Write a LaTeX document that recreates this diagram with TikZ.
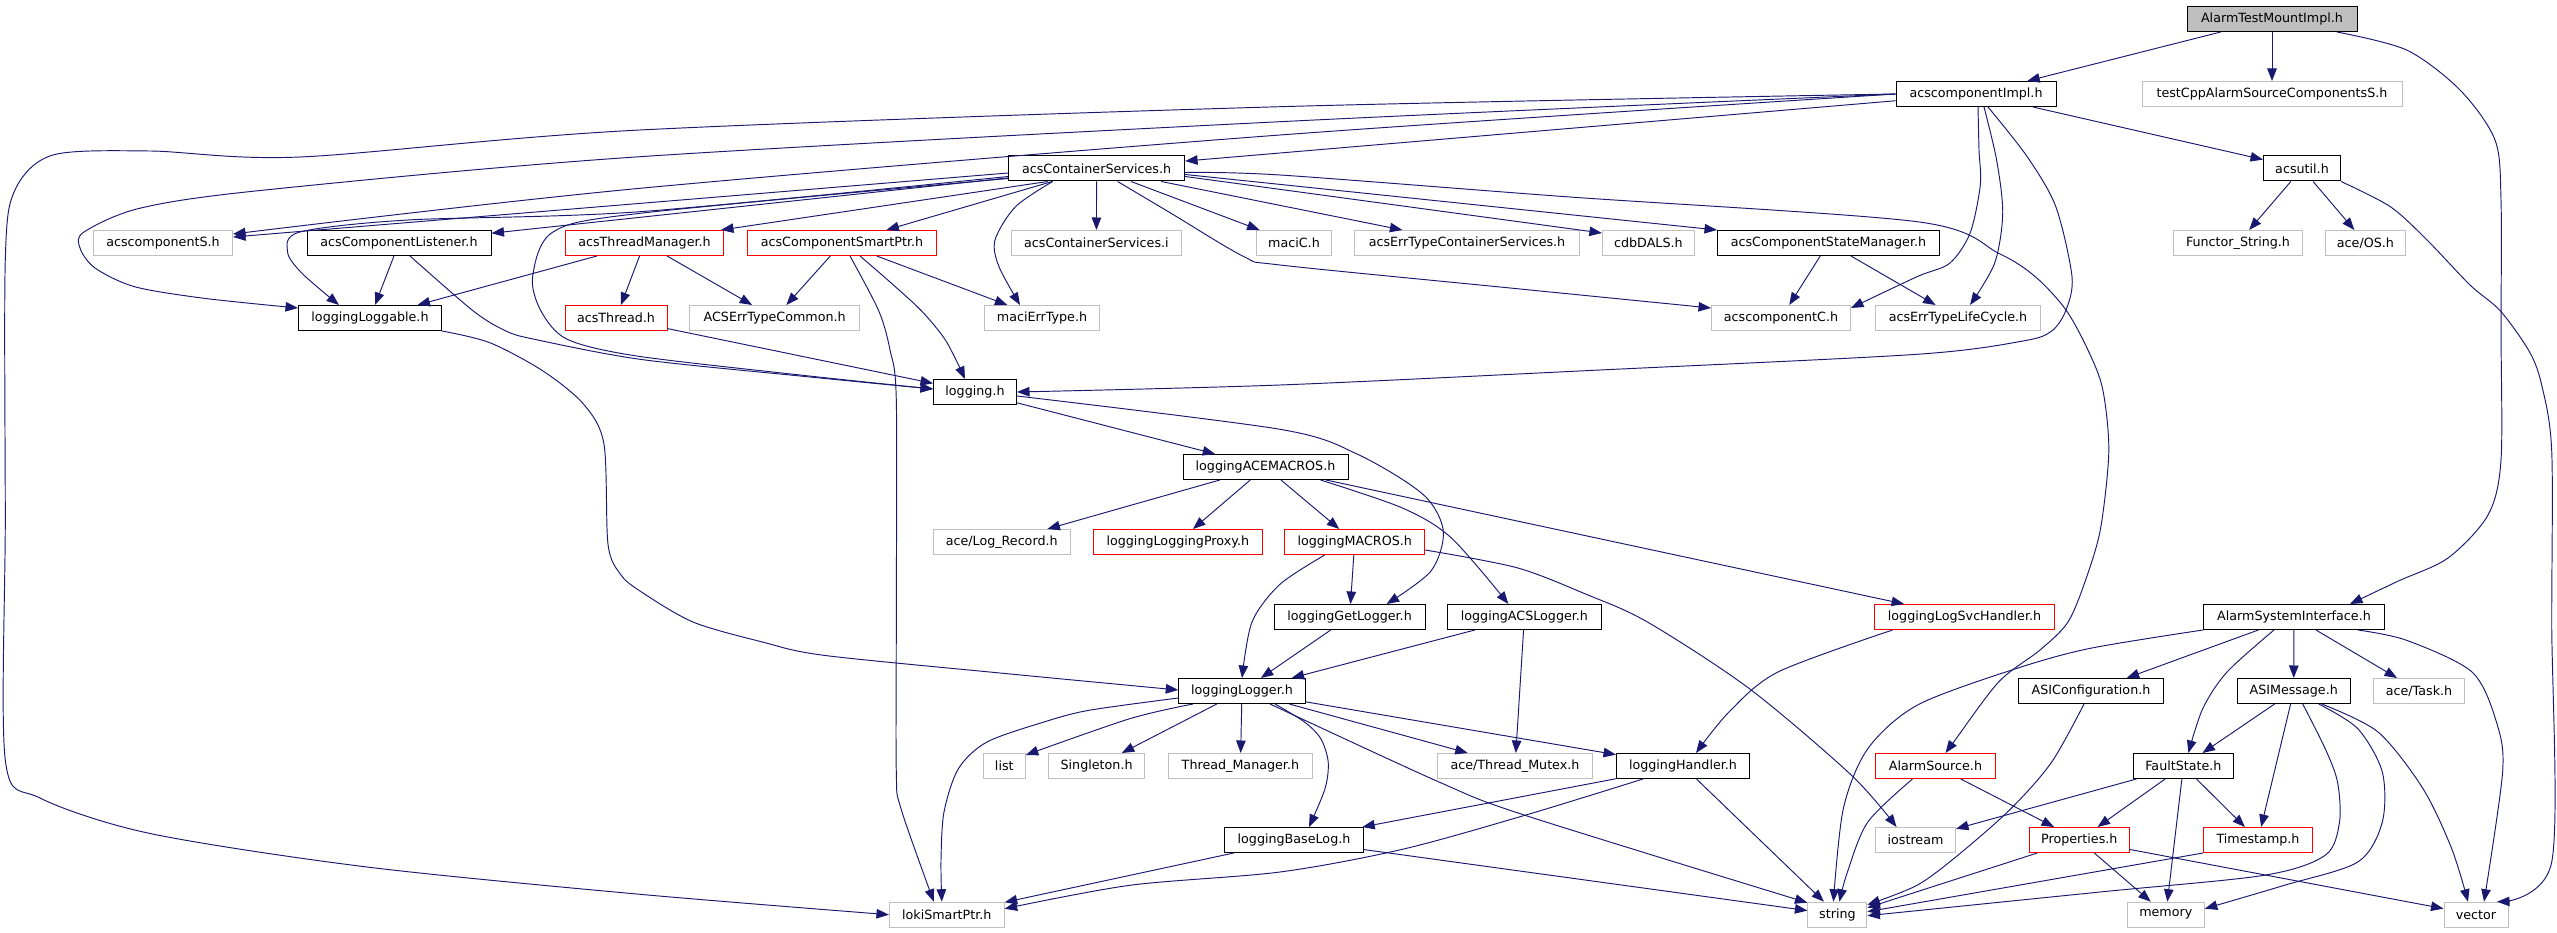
\documentclass[tikz,border=0pt]{standalone}
\usepackage{fontspec}
\setmainfont{DejaVu Sans}
\usetikzlibrary{arrows.meta}
\definecolor{edgeblue}{HTML}{191970}
\definecolor{extgray}{HTML}{BFBFBF}
\begin{document}
\begin{tikzpicture}[x=1pt,y=-1pt,
  box/.style={draw=black, line width=1pt, minimum height=25pt, inner sep=0pt, font=\fontsize{12.7}{15}\selectfont, text=black},
  docbox/.style={box},
  redbox/.style={box, draw=red},
  extbox/.style={box, draw=extgray},
  rootbox/.style={box, fill=extgray},
  conn/.style={draw=edgeblue, line width=0.95pt, -{Triangle[length=12.5pt,width=9.5pt]}},
  sm/.style={smooth, tension=0.5}
]
\useasboundingbox (0,0) rectangle (2557,933);
\fill[white] (0,0) rectangle (2557,933);

% nodes
\node[rootbox, minimum width=170pt] (root) at (2272,19) {AlarmTestMountImpl.h};
\node[docbox, minimum width=160pt] (impl) at (1976,94) {acscomponentImpl.h};
\node[extbox, minimum width=260pt] (testS) at (2272,94) {testCppAlarmSourceComponentsS.h};
\node[docbox, minimum width=176pt] (cs) at (1096.6,168.5) {acsContainerServices.h};
\node[docbox, minimum width=77pt] (util) at (2302,168.5) {acsutil.h};

\node[extbox, minimum width=139pt] (compS) at (163,243) {acscomponentS.h};
\node[docbox, minimum width=184pt] (listener) at (399,243) {acsComponentListener.h};
\node[redbox, minimum width=158pt] (threadmgr) at (644.5,243) {acsThreadManager.h};
\node[redbox, minimum width=189pt] (smartptr) at (842,243) {acsComponentSmartPtr.h};
\node[extbox, minimum width=170pt] (csi) at (1096.4,243) {acsContainerServices.i};
\node[extbox, minimum width=75pt] (maciC) at (1294,243) {maciC.h};
\node[extbox, minimum width=225pt] (errcs) at (1467,243) {acsErrTypeContainerServices.h};
\node[extbox, minimum width=92pt] (cdb) at (1648.4,243) {cdbDALS.h};
\node[docbox, minimum width=222pt] (statemgr) at (1828.5,243) {acsComponentStateManager.h};
\node[extbox, minimum width=129pt] (functor) at (2238,243) {Functor\_String.h};
\node[extbox, minimum width=80pt] (aceos) at (2365.4,243) {ace/OS.h};

\node[docbox, minimum width=143pt] (loggable) at (370,318) {loggingLoggable.h};
\node[redbox, minimum width=102pt] (thread) at (616,318) {acsThread.h};
\node[extbox, minimum width=170pt] (errcommon) at (774.7,318) {ACSErrTypeCommon.h};
\node[extbox, minimum width=115pt] (macierr) at (1042,318) {maciErrType.h};
\node[extbox, minimum width=139pt] (compC) at (1781,318) {acscomponentC.h};
\node[extbox, minimum width=165pt] (lifecycle) at (1958,318) {acsErrTypeLifeCycle.h};

\node[docbox, minimum width=83pt] (logging) at (975,392) {logging.h};
\node[docbox, minimum width=165pt] (acemacros) at (1265.5,467) {loggingACEMACROS.h};

\node[extbox, minimum width=137pt] (logrec) at (1001.7,542) {ace/Log\_Record.h};
\node[redbox, minimum width=169pt] (proxy) at (1177.8,542) {loggingLoggingProxy.h};
\node[redbox, minimum width=140pt] (macros) at (1354.7,542) {loggingMACROS.h};

\node[docbox, minimum width=151pt] (getlogger) at (1349.6,617) {loggingGetLogger.h};
\node[docbox, minimum width=154pt] (acslogger) at (1524.4,617) {loggingACSLogger.h};
\node[redbox, minimum width=180pt] (svchandler) at (1964.5,617) {loggingLogSvcHandler.h};
\node[docbox, minimum width=181pt] (asi) at (2294,617) {AlarmSystemInterface.h};

\node[docbox, minimum width=126.5pt] (logger) at (1242,691) {loggingLogger.h};
\node[docbox, minimum width=145pt] (asiconf) at (2091,691) {ASIConfiguration.h};
\node[docbox, minimum width=113pt] (asimsg) at (2293.7,691) {ASIMessage.h};
\node[extbox, minimum width=91pt] (acetask) at (2419,691) {ace/Task.h};

\node[extbox, minimum width=42pt] (list) at (1004.3,766) {list};
\node[extbox, minimum width=96pt] (singleton) at (1096.6,766) {Singleton.h};
\node[extbox, minimum width=143.6pt] (threadmanager) at (1240.4,766) {Thread\_Manager.h};
\node[extbox, minimum width=154.7pt] (mutex) at (1515,766) {ace/Thread\_Mutex.h};
\node[docbox, minimum width=133pt] (handler) at (1683,766) {loggingHandler.h};
\node[redbox, minimum width=120pt] (alarmsource) at (1935.5,766) {AlarmSource.h};
\node[docbox, minimum width=100pt] (faultstate) at (2183.4,766) {FaultState.h};

\node[docbox, minimum width=138.7pt] (baselog) at (1294,840) {loggingBaseLog.h};
\node[extbox, minimum width=80pt] (iostream) at (1915.5,840) {iostream};
\node[redbox, minimum width=100pt] (properties) at (2079.3,840) {Properties.h};
\node[redbox, minimum width=109pt] (timestamp) at (2258,840) {Timestamp.h};

\node[extbox, minimum width=114.7pt] (loki) at (946.8,914.7) {lokiSmartPtr.h};
\node[extbox, minimum width=59pt] (string) at (1837.4,914.7) {string};
\node[extbox, minimum width=77pt] (memory) at (2165.8,914.7) {memory};
\node[extbox, minimum width=64pt] (vector) at (2476,914.7) {vector};

% straight connectors
\draw[conn] (root) -- (impl);
\draw[conn] (root) -- (testS);
\draw[conn] (impl) -- (cs);
\draw[conn] (impl) -- (util);
\draw[conn] (cs) -- (listener);
\draw[conn] ([yshift=-4.5pt]cs.west) -- ([yshift=6pt]compS.east);
\draw[conn] (listener) -- (loggable);
\draw[conn] (threadmgr) -- (loggable);
\draw[conn] (threadmgr) -- (thread);
\draw[conn] (threadmgr) -- (errcommon);
\draw[conn] (thread) -- (logging);
\draw[conn] ([xshift=-49pt]cs.south) -- ([xshift=-3pt]threadmgr.north east);
\draw[conn] (cs) -- (smartptr);
\draw[conn] (cs) -- (csi);
\draw[conn] (cs) -- (maciC);
\draw[conn] (cs) -- (errcs);
\draw[conn] ([yshift=-8pt]cs.east) -- ([yshift=-3pt]cdb.north west);
\draw[conn] ([yshift=-6pt]cs.east) -- (statemgr.north west);
\draw[conn] (statemgr) -- (compC);
\draw[conn] (statemgr) -- (lifecycle);
\draw[conn] (smartptr) -- (errcommon);
\draw[conn] (smartptr) -- (macierr);
\draw[conn] (util) -- (functor);
\draw[conn] (util) -- (aceos);
\draw[conn] (logging) -- (acemacros);
\draw[conn] (acemacros) -- (logrec);
\draw[conn] (acemacros) -- (proxy);
\draw[conn] (acemacros) -- (macros);
\draw[conn] (acemacros) -- (svchandler);
\draw[conn] (macros) -- (getlogger);
\draw[conn] (getlogger) -- (logger);
\draw[conn] (acslogger) -- (logger);
\draw[conn] (acslogger) -- (mutex);
\draw[conn] (logger) -- (singleton);
\draw[conn] (logger) -- (threadmanager);
\draw[conn] (logger) -- (mutex);
\draw[conn] (logger) -- (handler);
\draw[conn] (handler) -- (baselog);
\draw[conn] (handler) -- (string);
\draw[conn] (baselog) -- (loki);
\draw[conn] (baselog) -- (string);
\draw[conn] (alarmsource) -- (properties);
\draw[conn] (asi) -- (asiconf);
\draw[conn] (asi) -- (asimsg);
\draw[conn] (asi) -- (acetask);
\draw[conn] (asimsg) -- (faultstate);
\draw[conn] (asimsg) -- (timestamp);
\draw[conn] (faultstate) -- (iostream);
\draw[conn] (faultstate) -- (properties);
\draw[conn] (faultstate) -- (memory);
\draw[conn] (faultstate) -- (timestamp);
\draw[conn] (properties) -- (memory);
\draw[conn] (properties) -- (vector);
\draw[conn] ([xshift=-42pt]properties.south) -- ([yshift=7pt]string.east);
\draw[conn] (timestamp.south west) -- ([yshift=3pt]string.east);

% curved connectors
\draw[conn] plot[sm] coordinates {([xshift=65pt]root.south) (2406.6,50) (2460,90) (2495,140) (2501,200) (2501,330) (2501,460) (2488,515) (2448,558) (2398.4,581) ([xshift=56pt]asi.north)};
\draw[conn] plot[sm] coordinates {(impl.west) (1280,106.7) (640,130) (300,157) (150,151) (53,155) (15,190) (5.3,260) (5.3,520) (5.3,760) (40,798) (151,833.7) (367,867) (640,894.3) (loki.west)};
\draw[conn] plot[sm] coordinates {(impl.west) (1280,121.7) (640,156.7) (265,190) (140.8,208) (84,232) (80,248) (95,268) (134.6,286.7) (204,298.3) ([yshift=-3pt]loggable.north west)};
\draw[conn] plot[sm] coordinates {(impl.west) (1280,135) (640,188.3) ([yshift=9pt]compS.east)};
\draw[conn] plot[sm] coordinates {([yshift=-8pt]cs.west) (640,211.7) (408,220) (300,232) (287.6,252) (302,273.3) ([xshift=-31pt]loggable.north)};
\draw[conn] plot[sm] coordinates {([yshift=-10pt]cs.west) (640,213.3) (553,232) (532.6,276.7) (541,311) (567.3,339.3) (636.7,356) (800,375) ([yshift=3pt]logging.west)};
\draw[conn] plot[sm] coordinates {([xshift=11pt]listener.south) (473.3,311) (506,331) (534.5,339.3) (640,359.3) (800,376) ([yshift=3pt]logging.west)};
\draw[conn] plot[sm] coordinates {([xshift=-44pt]cs.south) (1015.5,206.7) (995,240) (999,266.7) ([xshift=-22pt]macierr.north)};
\draw[conn] plot[sm] coordinates {([yshift=-4pt]cs.east) (1280,175) (1565.6,196.7) (1917,221.7) (1998.6,253.3) (2035.3,276.7) (2066,310) (2088.4,351) (2102.7,389.3) (2108.8,451) (2100.7,527.7) (2086.4,577.7) (2068,622) (2040,650) (1998.6,682) (1953.7,742) ([xshift=10pt]alarmsource.north)};
\draw[conn] plot[sm] coordinates {([xshift=21pt]cs.south) (1170.6,213) (1244,256.7) (1280,265) (1500,287) ([yshift=-3pt]compC.north west)};
\draw[conn] plot[sm] coordinates {([xshift=2pt]impl.south) (1979,150) (1980.3,185) (1970,233.3) (1949.6,263.3) (1917,276.7) ([yshift=-3pt]compC.north east)};
\draw[conn] plot[sm] coordinates {([xshift=8pt]impl.south) (1996.6,160) (2002.7,213.3) (1994.6,263.3) ([xshift=12pt]lifecycle.north)};
\draw[conn] plot[sm] coordinates {([xshift=12pt]impl.south) (2027.2,156.7) (2055.8,206.7) (2072,276.7) (2066,310) (2051.7,331) (2023,341) (1917,354.3) (1600,370) (1280,385) (logging.east)};
\draw[conn] plot[sm] coordinates {([xshift=8pt]smartptr.south) (878.8,311) (890,350) (896.3,400) (896.3,620) (896.3,772) (901,808.7) ([xshift=-13pt]loki.north)};
\draw[conn] plot[sm] coordinates {([xshift=18pt]smartptr.south) (890,282) (921.6,311) (946,341) ([xshift=-10pt]logging.north)};
\draw[conn] plot[sm] coordinates {(util.south east) (2390.3,206.7) (2427,240) (2470,285) (2500.4,311) (2529,351) (2541.5,384.3) (2551.7,451) (2551.7,622) (2551.7,862) ([xshift=21pt]vector.north)};
\draw[conn] plot[sm] coordinates {([yshift=-4pt]logging.east) (1280,429.3) (1357.6,454.3) (1422.9,494.3) (1443.3,531) (1431,571) ([xshift=37pt]getlogger.north)};
\draw[conn] plot[sm] coordinates {([xshift=55pt]acemacros.south) (1402.4,508) (1451.4,538) ([xshift=-16pt]acslogger.north)};
\draw[conn] plot[sm] coordinates {([xshift=-30pt]macros.south) (1280,584.3) (1252,622) (logger.north)};
\draw[conn] plot[sm] coordinates {([yshift=-8pt]macros.east) (1516.8,567.7) (1586.2,594.3) (1647.4,622) (1749.4,688.7) (1851.5,775.3) ([xshift=-19pt]iostream.north)};
\draw[conn] plot[sm] coordinates {([xshift=-72pt]svchandler.south) (1778,672) (1729,712) ([xshift=13pt]handler.north)};
\draw[conn] plot[sm] coordinates {(loggable.south east) (489.8,342.7) (543,371) (583.7,404.3) (604,444.3) (608,544.3) (620.5,574.3) (640,591) (693,622) (762.4,642) (823.7,655.3) (1000,673) ([yshift=1pt]logger.west)};
\draw[conn] plot[sm] coordinates {([yshift=-7pt]logger.west) (1089,710.3) (1044,722) (987,742) (958.4,768.7) (944,812) (941,860) ([xshift=-5pt]loki.north)};
\draw[conn] plot[sm] coordinates {([xshift=-49pt]logger.south) (1129.8,718.7) ([yshift=-2pt]list.north east)};
\draw[conn] plot[sm] coordinates {([xshift=33pt]logger.south) (1304.5,722) (1320.8,738.7) (1328.2,762) (1325,788.7) ([xshift=15pt]baselog.north)};
\draw[conn] plot[sm] coordinates {([xshift=28pt]logger.south) (1439,782) (1525,815.3) ([yshift=-1pt]string.north west)};
\draw[conn] plot[sm] coordinates {([xshift=-40pt]handler.south) (1524.9,815.3) (1402.4,849.3) (1280,872) (1129.8,885.3) ([yshift=6pt]loki.east)};
\draw[conn] plot[sm] coordinates {(asi.south west) (2088.4,648.7) (2010.9,670.3) (1917,705.3) (1867.8,748.7) (1843.3,808.7) ([xshift=-4pt]string.north)};
\draw[conn] plot[sm] coordinates {([xshift=-23pt]alarmsource.south) (1867.8,822) (1847.4,872) ([xshift=2pt]string.north)};
\draw[conn] plot[sm] coordinates {([xshift=-20pt]asi.south) (2227,672) (2202.7,708.7) ([xshift=5pt]faultstate.north)};
\draw[conn] plot[sm] coordinates {([xshift=64pt]asi.south) (2406.6,640.3) (2472,672) (2496.4,722) (2502.6,772) ([xshift=8pt]vector.north)};
\draw[conn] plot[sm] coordinates {([xshift=-7pt]asiconf.south) (2051.7,762) (2010.9,808.7) (1957.8,855.3) (1917,885.3) ([yshift=10pt]string.east)};
\draw[conn] plot[sm] coordinates {([xshift=9pt]asimsg.south) (2325.2,748.7) (2337.5,782) (2339.5,822) (2325.2,855.3) (2264,875.3) (2100,892) ([yshift=-1pt]string.east)};
\draw[conn] plot[sm] coordinates {([xshift=25pt]asimsg.south) (2357.8,728.7) (2382.3,772) (2382.3,822) (2357.8,862) (2284.3,885.3) ([yshift=6pt]memory.east)};
\draw[conn] plot[sm] coordinates {([xshift=28pt]asimsg.south) (2378,732) (2423,788.7) (2451.7,848.7) ([xshift=-8pt]vector.north)};
\end{tikzpicture}
\end{document}
